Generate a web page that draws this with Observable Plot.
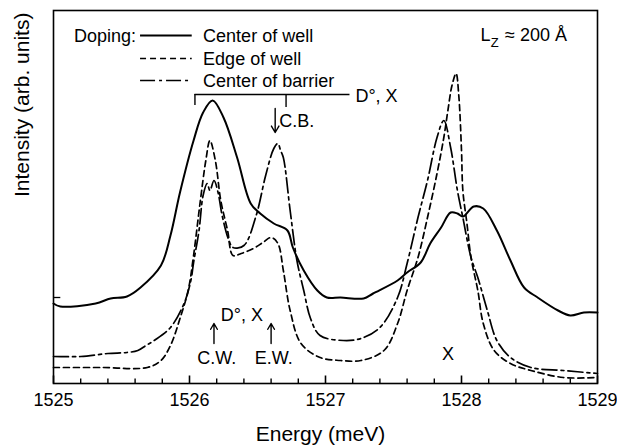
<!DOCTYPE html>
<html><head><meta charset="utf-8">
<script src="https://cdn.jsdelivr.net/npm/d3@7"></script>
<script src="https://cdn.jsdelivr.net/npm/@observablehq/plot@0.6"></script>
<style>
html,body{margin:0;padding:0;background:#fff;}
svg{font-family:"Liberation Sans",Arial,Helvetica,sans-serif;}
</style></head><body><div id="chart"></div>
<script>
// Energy (meV) and intensity (arb. units)
const wellE = [1525.00,1525.05,1525.31,1525.42,1525.54,1525.64,1525.79,1525.86,1525.93,1526.03,1526.10,1526.17,1526.25,1526.35,1526.45,1526.52,1526.62,1526.72,1526.76,1526.84,1526.94,1527.01,1527.11,1527.28,1527.35,1527.53,1527.60,1527.70,1527.77,1527.85,1527.92,1527.97,1528.01,1528.09,1528.16,1528.26,1528.36,1528.46,1528.56,1528.71,1528.80,1528.90,1529.00];
const wellI = [80,77,80,85,87,96,118,148,191,243,271,283,266,226,180,170,160,153,136,113,93,86,86,85,90,103,111,121,140,156,171,170,167,177,175,153,123,96,86,73,68,71,71];

const edgeE = [1525.00,1525.35,1525.69,1525.79,1525.86,1525.93,1525.99,1526.03,1526.08,1526.12,1526.15,1526.19,1526.23,1526.28,1526.32,1526.38,1526.47,1526.54,1526.60,1526.65,1526.69,1526.74,1526.82,1526.96,1527.11,1527.26,1527.43,1527.53,1527.60,1527.68,1527.75,1527.82,1527.87,1527.90,1527.93,1527.96,1527.98,1528.00,1528.01,1528.04,1528.07,1528.12,1528.16,1528.24,1528.36,1528.51,1528.75,1529.00];
const edgeI = [16,16,16,23,38,65,93,128,183,223,243,223,183,153,128,130,135,141,146,140,113,73,40,26,23,23,33,60,93,126,166,210,246,273,298,310,288,233,193,160,126,93,60,33,20,13,6,6];

const barrE = [1525.00,1525.20,1525.40,1525.54,1525.62,1525.68,1525.74,1525.86,1525.96,1526.01,1526.03,1526.07,1526.10,1526.13,1526.15,1526.18,1526.21,1526.24,1526.29,1526.32,1526.40,1526.49,1526.56,1526.62,1526.65,1526.67,1526.69,1526.74,1526.79,1526.84,1526.89,1526.96,1527.13,1527.26,1527.40,1527.53,1527.60,1527.68,1527.75,1527.82,1527.87,1527.92,1527.97,1528.01,1528.07,1528.12,1528.19,1528.26,1528.36,1528.51,1528.75,1529.00];
const barrI = [27,27,30,31,33,38,43,56,80,103,121,153,188,200,193,203,191,168,143,136,138,168,208,235,240,233,226,173,123,93,65,48,43,45,56,86,120,166,203,246,263,236,193,166,126,106,73,43,26,16,13,10];

const legendLabels = ["Center of well", "Edge of well", "Center of barrier"];
const xTicks = [1525, 1526, 1527, 1528, 1529];
const minorTicks = [1525.2,1525.4,1525.6,1525.8,1526.2,1526.4,1526.6,1526.8,1527.2,1527.4,1527.6,1527.8,1528.2,1528.4,1528.6,1528.8];
const xLabel = "Energy (meV)";
const yLabel = "Intensity (arb. units)";

const rows = (E, I) => E.map((e, i) => ({e, v: I[i]}));
const FS = 18;
const dashEdge = "6,4";
const dashBarr = "15,4,3,4";
const styles = [{dash: null, w: 2}, {dash: dashEdge, w: 1.7}, {dash: dashBarr, w: 1.7}];

const legendY = [348, 325, 303];
const marks = [
  Plot.frame({stroke: "black", strokeWidth: 1.6}),
  Plot.link(minorTicks, {x1: d => d, x2: d => d, y1: () => 0, y2: () => 5, stroke: "black", strokeWidth: 1.4}),
  Plot.link(xTicks, {x1: d => d, x2: d => d, y1: () => 0, y2: () => 8, stroke: "black", strokeWidth: 1.6}),
  Plot.text(xTicks, {x: d => d, y: () => 0, dy: 22, lineAnchor: "bottom", fontSize: FS, text: d => String(d)}),
  Plot.text([xLabel], {frameAnchor: "bottom", dx: -5, dy: 57, lineAnchor: "bottom", fontSize: 21, text: d => d}),
  Plot.text([yLabel], {frameAnchor: "left", dx: -25, rotate: -90, lineAnchor: "bottom", fontSize: 21, text: d => d}),
  Plot.link([86], {x1: () => 1525, x2: () => 1525.05, y1: d => d, y2: d => d, stroke: "black", strokeWidth: 1.3}),
  // curves
  Plot.line(rows(wellE, wellI), {x: "e", y: "v", stroke: "black", strokeWidth: 2, curve: "catmull-rom"}),
  Plot.line(rows(edgeE, edgeI), {x: "e", y: "v", stroke: "black", strokeWidth: 1.7, strokeDasharray: dashEdge, curve: "catmull-rom"}),
  Plot.line(rows(barrE, barrI), {x: "e", y: "v", stroke: "black", strokeWidth: 1.7, strokeDasharray: dashBarr, curve: "catmull-rom"}),
  // legend
  Plot.text(["Doping:"], {x: 1525.15, y: 341.5, textAnchor: "start", lineAnchor: "bottom", fontSize: FS, text: d => d}),
];
legendLabels.forEach((lab, i) => {
  marks.push(Plot.ruleY([legendY[i]], {x1: 1525.64, x2: 1526.02, stroke: "black", strokeWidth: styles[i].w, strokeDasharray: styles[i].dash}));
  marks.push(Plot.text([lab], {x: 1526.10, y: legendY[i], dy: 6.5, textAnchor: "start", lineAnchor: "bottom", fontSize: FS, text: d => d}));
});
// L_z annotation
marks.push(
  Plot.text(["L"], {x: 1528.14, y: 343, textAnchor: "start", lineAnchor: "bottom", fontSize: FS, text: d => d}),
  Plot.text(["Z"], {x: 1528.215, y: 337, textAnchor: "start", lineAnchor: "bottom", fontSize: 13, text: d => d}),
  Plot.text(["\u2248 200 \u00C5"], {x: 1528.32, y: 343, textAnchor: "start", lineAnchor: "bottom", fontSize: FS, text: d => d})
);
// bracket D°, X and arrows
marks.push(
  Plot.ruleY([289], {x1: 1526.04, x2: 1527.18, stroke: "black", strokeWidth: 1.4}),
  Plot.ruleX([1526.04], {y1: 278, y2: 289, stroke: "black", strokeWidth: 1.4}),
  Plot.ruleX([1526.71], {y1: 276, y2: 289, stroke: "black", strokeWidth: 1.4}),
  Plot.text(["D\u00B0, X"], {x: 1527.22, y: 282, textAnchor: "start", lineAnchor: "bottom", fontSize: FS, text: d => d}),
  Plot.arrow([0], {x1: 1526.63, y1: 275, x2: 1526.63, y2: 251, stroke: "black", strokeWidth: 1.4, headLength: 8}),
  Plot.text(["C.B."], {x: 1526.66, y: 257, textAnchor: "start", lineAnchor: "bottom", fontSize: FS, text: d => d}),
  Plot.text(["D\u00B0, X"], {x: 1526.23, y: 63, textAnchor: "start", lineAnchor: "bottom", fontSize: FS, text: d => d}),
  Plot.arrow([0], {x1: 1526.18, y1: 40, x2: 1526.18, y2: 60, stroke: "black", strokeWidth: 1.4, headLength: 8}),
  Plot.arrow([0], {x1: 1526.60, y1: 40, x2: 1526.60, y2: 60, stroke: "black", strokeWidth: 1.4, headLength: 8}),
  Plot.text(["C.W."], {x: 1526.20, y: 20, lineAnchor: "bottom", fontSize: FS, text: d => d}),
  Plot.text(["E.W."], {x: 1526.62, y: 20, lineAnchor: "bottom", fontSize: FS, text: d => d}),
  Plot.text(["X"], {x: 1527.90, y: 24, lineAnchor: "bottom", fontSize: FS, text: d => d})
);

const chart = Plot.plot({
  width: 617, height: 446,
  marginLeft: 53, marginRight: 20, marginTop: 10, marginBottom: 63,
  x: {domain: [1525, 1529], axis: null},
  y: {domain: [0, 373], axis: null},
  style: {fontFamily: "'Liberation Sans', Arial, Helvetica, sans-serif", fontSize: "18px", color: "black", background: "white"},
  marks
});
document.getElementById("chart").appendChild(chart);
</script></body></html>
